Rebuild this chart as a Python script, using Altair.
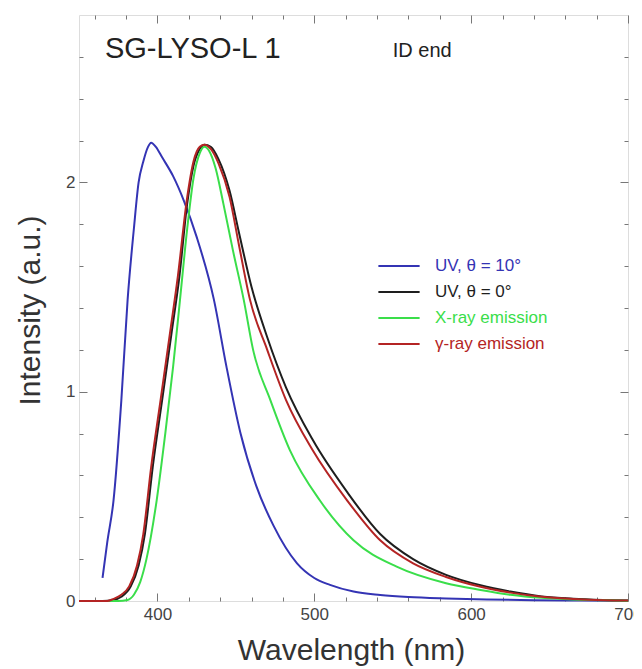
import altair as alt
import pandas as pd

# ---- data ----
series_names = ["UV, θ = 10°", "UV, θ = 0°", "X-ray emission", "γ-ray emission"]
series_colors = ["#3434b4", "#1e1e1e", "#3ade4a", "#b42424"]

blue_x = [365, 368, 372, 377, 381, 385, 388, 391, 394, 396, 399, 403, 410, 417, 425, 436, 444, 453, 463, 474, 489, 500, 510, 525, 542, 560, 584, 610, 640, 670, 700]
blue_y = [0.11, 0.28, 0.48, 0.96, 1.44, 1.78, 2.0, 2.10, 2.17, 2.19, 2.17, 2.12, 2.03, 1.91, 1.74, 1.44, 1.12, 0.80, 0.55, 0.36, 0.18, 0.11, 0.077, 0.045, 0.029, 0.019, 0.012, 0.007, 0.004, 0.002, 0.001]

black_x = [350, 365, 372, 377, 383, 388, 392, 397, 403, 409, 414, 419, 423, 427, 430, 434, 439, 446, 452, 460, 470, 482, 499, 521, 542, 563, 584, 606, 625, 645, 665, 685, 700]
black_y = [0, 0, 0.005, 0.02, 0.07, 0.17, 0.32, 0.64, 0.96, 1.28, 1.55, 1.90, 2.08, 2.16, 2.18, 2.17, 2.11, 1.96, 1.76, 1.50, 1.26, 1.02, 0.77, 0.52, 0.32, 0.20, 0.125, 0.075, 0.045, 0.022, 0.011, 0.005, 0.002]

green_x = [350, 375, 381, 385, 389, 393, 399.5, 405, 410, 414.4, 419, 423, 427, 430, 433, 437, 442, 448, 455, 461, 472, 484.5, 503.6, 525, 552.5, 584, 606, 625, 645, 665, 685, 700]
green_y = [0, 0, 0.005, 0.03, 0.09, 0.20, 0.48, 0.80, 1.12, 1.44, 1.78, 2.02, 2.14, 2.17, 2.15, 2.07, 1.90, 1.68, 1.44, 1.20, 0.96, 0.72, 0.48, 0.29, 0.164, 0.085, 0.053, 0.03, 0.015, 0.007, 0.003, 0.001]

red_x = [350, 360, 368, 372, 377, 382, 387, 391, 396, 402, 408, 413, 419, 423, 427, 430, 434, 439, 446, 452, 459, 470, 482, 499, 521, 542, 563, 584, 606, 625, 645, 665, 685, 700]
red_y = [0.0, 0.0, 0.0, 0.01, 0.03, 0.07, 0.17, 0.32, 0.64, 0.96, 1.28, 1.55, 1.93, 2.10, 2.17, 2.18, 2.16, 2.09, 1.93, 1.70, 1.44, 1.20, 0.96, 0.72, 0.48, 0.29, 0.18, 0.115, 0.068, 0.04, 0.02, 0.01, 0.004, 0.002]

x_ticks = list(range(360, 701, 20))
y_ticks = [0, 0.2, 0.4, 0.6, 0.8, 1, 1.2, 1.4, 1.6, 1.8, 2, 2.2, 2.4, 2.6]

title_text = "SG-LYSO-L 1"
sub_text = "ID end"

rows = []
for name, xs, ys in zip(series_names, [blue_x, black_x, green_x, red_x], [blue_y, black_y, green_y, red_y]):
    for i, (a, b) in enumerate(zip(xs, ys)):
        rows.append({"series": name, "wl": a, "val": b, "order": i})
df = pd.DataFrame(rows)

FONT = "Liberation Sans"
XDOM = [350, 700]
YDOM = [0, 2.8]

major_test = "abs(datum.value - round(datum.value)) < 1e-6"
xmajor_test = "datum.value % 100 == 0"

x_scale = alt.Scale(domain=XDOM, nice=False, zero=False)
y_scale = alt.Scale(domain=YDOM, nice=False)
color_scale = alt.Scale(domain=series_names, range=series_colors)

lines = alt.Chart(df).mark_line(strokeWidth=2, interpolate="monotone").encode(
    x=alt.X("wl:Q", scale=x_scale,
            axis=alt.Axis(orient="bottom", values=x_ticks, domain=False, grid=False,
                          tickSize={"condition": {"test": xmajor_test, "value": -8}, "value": -4},
                          tickColor="#777", tickWidth=1,
                          labelExpr=f"{xmajor_test} ? format(datum.value, 'd') : ''",
                          labelFlush=False, labelFont=FONT, labelFontSize=17, labelColor="#444",
                          labelPadding=13, labelOverlap=False,
                          title="Wavelength (nm)", titleFont=FONT, titleFontSize=30,
                          titleFontWeight="normal", titleColor="#333",
                          titleX=272, titleY=49, titleBaseline="middle")),
    y=alt.Y("val:Q", scale=y_scale,
            axis=alt.Axis(orient="left", values=y_ticks, domain=False, grid=False,
                          tickSize={"condition": {"test": major_test, "value": -8}, "value": -4},
                          tickColor="#777", tickWidth=1,
                          labelExpr=f"{major_test} ? format(datum.value, 'd') : ''",
                          labelFont=FONT, labelFontSize=17, labelColor="#444", labelPadding=12,
                          labelOverlap=False,
                          title="Intensity (a.u.)", titleFont=FONT, titleFontSize=30,
                          titleFontWeight="normal", titleColor="#333",
                          titleX=-49, titleY=295, titleBaseline="middle")),
    color=alt.Color("series:N", scale=color_scale, sort=series_names,
                    legend=alt.Legend(orient="none", legendX=298, legendY=242, title=None,
                                      symbolType="stroke", symbolSize=1700, symbolStrokeWidth=2,
                                      clipHeight=18,
                                      labelFont=FONT, labelFontSize=17,
                                      labelColor=alt.ExprRef("scale('color', datum.value)"),
                                      rowPadding=8, labelOffset=14)),
    order="order:Q",
)

mirror = alt.Chart(df).mark_line(opacity=0).encode(
    x=alt.X("wl:Q", scale=x_scale,
            axis=alt.Axis(orient="top", values=x_ticks, domain=False, grid=False, labels=False,
                          tickSize={"condition": {"test": xmajor_test, "value": -8}, "value": -4},
                          tickColor="#777", title=None)),
    y=alt.Y("val:Q", scale=y_scale,
            axis=alt.Axis(orient="right", values=y_ticks, domain=False, grid=False, labels=False,
                          tickSize={"condition": {"test": major_test, "value": -8}, "value": -4},
                          tickColor="#777", title=None)),
    detail="series:N",
)

ann1 = alt.Chart(pd.DataFrame({"wl": [366.5], "val": [2.595], "t": [title_text]})).mark_text(
    font=FONT, fontSize=29, color="#222", align="left", baseline="alphabetic"
).encode(x=alt.X("wl:Q", scale=x_scale, axis=None),
         y=alt.Y("val:Q", scale=y_scale, axis=None), text="t:N")

ann2 = alt.Chart(pd.DataFrame({"wl": [550], "val": [2.60], "t": [sub_text]})).mark_text(
    font=FONT, fontSize=20, color="#222", align="left", baseline="alphabetic"
).encode(x=alt.X("wl:Q", scale=x_scale, axis=None),
         y=alt.Y("val:Q", scale=y_scale, axis=None), text="t:N")

chart = alt.layer(lines, mirror, ann1, ann2).resolve_axis(
    x="independent", y="independent"
).properties(
    width=549, height=586,
    autosize=alt.AutoSizeParams(type="none"),
    padding={"left": 71, "top": 7, "right": 6, "bottom": 68},
).configure_view(stroke="#666", strokeWidth=2).configure(background="white")

chart.save("out.html", embed_options={"renderer": "svg", "actions": False})
